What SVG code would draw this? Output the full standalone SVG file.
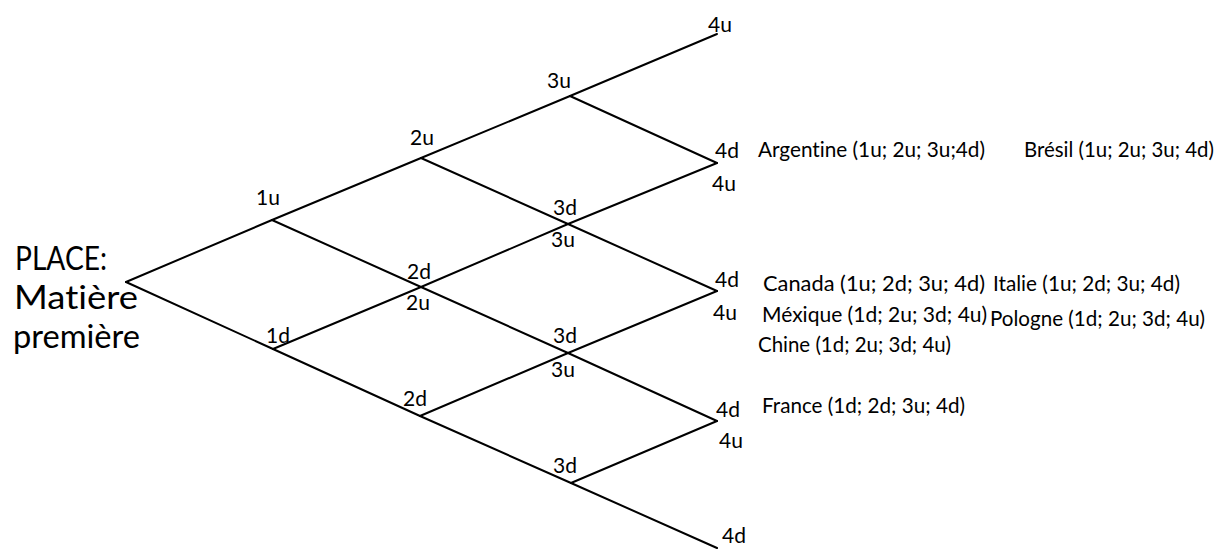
<svg xmlns="http://www.w3.org/2000/svg" width="1219" height="549" viewBox="0 0 1219 549">
<style>
.e{stroke:#000;stroke-width:2;fill:none;stroke-linecap:round}
text{font-family:Lato,"Open Sans","Liberation Sans",sans-serif;fill:#000;font-variant-ligatures:none;font-feature-settings:"liga" 0}
.s{font-size:21px}
.c{font-size:21px}
.b{font-size:32px}
</style>
<rect width="1219" height="549" fill="#fff"/>
<g id="connectors">
<line class="e" x1="126" y1="282" x2="272" y2="220"/>
<line class="e" x1="126" y1="282" x2="273" y2="349"/>
<line class="e" x1="272" y1="220" x2="421" y2="158"/>
<line class="e" x1="272" y1="220" x2="421" y2="287"/>
<line class="e" x1="273" y1="349" x2="421" y2="287"/>
<line class="e" x1="273" y1="349" x2="420" y2="416"/>
<line class="e" x1="421" y1="158" x2="570" y2="96"/>
<line class="e" x1="421" y1="158" x2="568" y2="224"/>
<line class="e" x1="421" y1="287" x2="568" y2="224"/>
<line class="e" x1="421" y1="287" x2="568" y2="353"/>
<line class="e" x1="420" y1="416" x2="568" y2="353"/>
<line class="e" x1="420" y1="416" x2="571" y2="483"/>
<line class="e" x1="570" y1="96" x2="717" y2="34"/>
<line class="e" x1="570" y1="96" x2="717" y2="163"/>
<line class="e" x1="568" y1="224" x2="717" y2="163"/>
<line class="e" x1="568" y1="224" x2="717" y2="291"/>
<line class="e" x1="568" y1="353" x2="717" y2="291"/>
<line class="e" x1="568" y1="353" x2="717" y2="421"/>
<line class="e" x1="571" y1="483" x2="717" y2="421"/>
<line class="e" x1="571" y1="483" x2="717" y2="548"/>
</g>
<g id="root">
<text class="b" x="15" y="270" textLength="92" lengthAdjust="spacingAndGlyphs">PLACE:</text>
<text class="b" x="14" y="309" textLength="124" lengthAdjust="spacingAndGlyphs">Matière</text>
<text class="b" x="13" y="348" textLength="127" lengthAdjust="spacingAndGlyphs">première</text>
</g>
<g id="n1u"><text class="s" x="256" y="205">1u</text></g>
<g id="n1d"><text class="s" x="266" y="343">1d</text></g>
<g id="n2u"><text class="s" x="410" y="145">2u</text></g>
<g id="n2m"><text class="s" x="407" y="279">2d</text><text class="s" x="406" y="310">2u</text></g>
<g id="n2d"><text class="s" x="403" y="406">2d</text></g>
<g id="n3u"><text class="s" x="547" y="88">3u</text></g>
<g id="n3m1"><text class="s" x="553" y="215">3d</text><text class="s" x="551" y="247">3u</text></g>
<g id="n3m2"><text class="s" x="553" y="343">3d</text><text class="s" x="551" y="377">3u</text></g>
<g id="n3d"><text class="s" x="553" y="473">3d</text></g>
<g id="n4a"><text class="s" x="708" y="32">4u</text></g>
<g id="n4b">
<text class="s" x="715" y="158">4d</text><text class="s" x="712" y="191">4u</text>
<text class="c" x="758" y="157" textLength="227" lengthAdjust="spacingAndGlyphs">Argentine (1u; 2u; 3u;4d)</text>
<text class="c" x="1024" y="157" textLength="190" lengthAdjust="spacingAndGlyphs">Brésil (1u; 2u; 3u; 4d)</text>
</g>
<g id="n4c">
<text class="s" x="715" y="287">4d</text><text class="s" x="713" y="320">4u</text>
<text class="c" x="763" y="291" textLength="222" lengthAdjust="spacingAndGlyphs">Canada (1u; 2d; 3u; 4d)</text>
<text class="c" x="993" y="291" textLength="187" lengthAdjust="spacingAndGlyphs">Italie (1u; 2d; 3u; 4d)</text>
<text class="c" x="762" y="322" textLength="225" lengthAdjust="spacingAndGlyphs">Méxique (1d; 2u; 3d; 4u)</text>
<text class="c" x="990" y="326" textLength="215" lengthAdjust="spacingAndGlyphs">Pologne (1d; 2u; 3d; 4u)</text>
<text class="c" x="758" y="352" textLength="193" lengthAdjust="spacingAndGlyphs">Chine (1d; 2u; 3d; 4u)</text>
</g>
<g id="n4d">
<text class="s" x="716" y="417">4d</text><text class="s" x="719" y="448">4u</text>
<text class="c" x="762" y="413" textLength="203" lengthAdjust="spacingAndGlyphs">France (1d; 2d; 3u; 4d)</text>
</g>
<g id="n4e"><text class="s" x="722" y="543">4d</text></g>
</svg>
